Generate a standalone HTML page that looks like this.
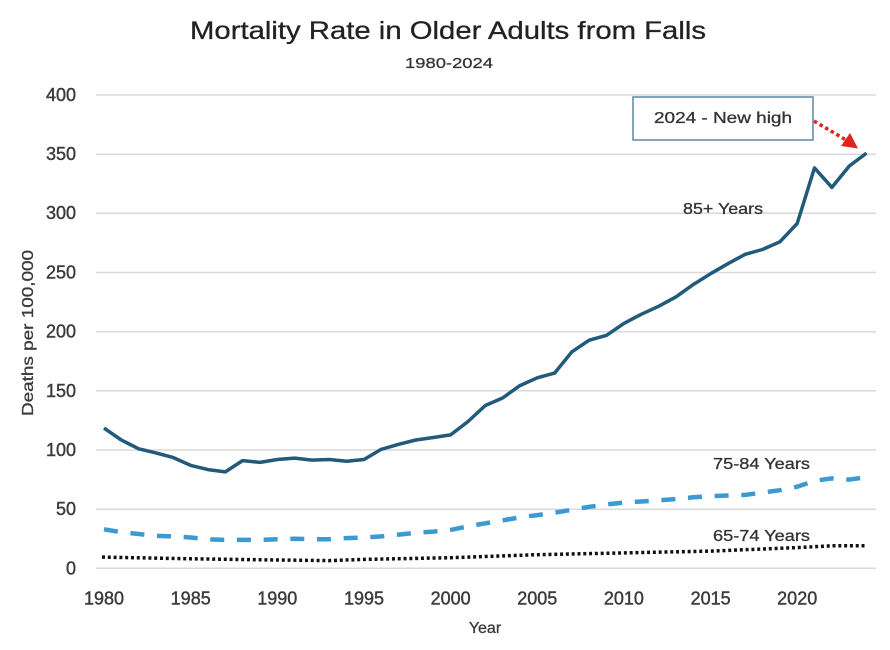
<!DOCTYPE html>
<html><head><meta charset="utf-8"><style>
html,body{margin:0;padding:0;background:#fff;}
svg{display:block;}
text{font-family:"Liberation Sans",Arial,sans-serif;}
</style></head><body>
<svg width="890" height="650" viewBox="0 0 890 650" xmlns="http://www.w3.org/2000/svg">
<rect width="890" height="650" fill="#fff"/>
<text x="448" y="39" text-anchor="middle" font-size="25" fill="#222" stroke="#222" stroke-width="0.3" textLength="516" lengthAdjust="spacingAndGlyphs">Mortality Rate in Older Adults from Falls</text>
<text x="449" y="68" text-anchor="middle" font-size="15" fill="#333" stroke="#333" stroke-width="0.25" textLength="88" lengthAdjust="spacingAndGlyphs">1980-2024</text>
<g stroke="#d9d9d9" stroke-width="1.5">
<line x1="96" y1="95" x2="876" y2="95"/>
<line x1="96" y1="154.2" x2="876" y2="154.2"/>
<line x1="96" y1="213.3" x2="876" y2="213.3"/>
<line x1="96" y1="272.5" x2="876" y2="272.5"/>
<line x1="96" y1="331.7" x2="876" y2="331.7"/>
<line x1="96" y1="390.8" x2="876" y2="390.8"/>
<line x1="96" y1="450" x2="876" y2="450"/>
<line x1="96" y1="509.2" x2="876" y2="509.2"/>
<line x1="96" y1="568.3" x2="876" y2="568.3"/>
</g>
<g font-size="18" fill="#3a3a3a" stroke="#3a3a3a" stroke-width="0.4" text-anchor="end">
<text x="76" y="101">400</text>
<text x="76" y="160">350</text>
<text x="76" y="219">300</text>
<text x="76" y="278.5">250</text>
<text x="76" y="337.5">200</text>
<text x="76" y="397">150</text>
<text x="76" y="456">100</text>
<text x="76" y="515">50</text>
<text x="76" y="574.5">0</text>
</g>
<g font-size="18" fill="#3a3a3a" stroke="#3a3a3a" stroke-width="0.4" text-anchor="middle">
<text x="104" y="604.5">1980</text>
<text x="190.7" y="604.5">1985</text>
<text x="277.3" y="604.5">1990</text>
<text x="364" y="604.5">1995</text>
<text x="450.6" y="604.5">2000</text>
<text x="537.3" y="604.5">2005</text>
<text x="623.9" y="604.5">2010</text>
<text x="710.6" y="604.5">2015</text>
<text x="797.2" y="604.5">2020</text>
</g>
<text x="485" y="633" text-anchor="middle" font-size="16" fill="#3a3a3a" stroke="#3a3a3a" stroke-width="0.3">Year</text>
<text transform="translate(33,333) rotate(-90)" text-anchor="middle" font-size="16" fill="#3a3a3a" stroke="#3a3a3a" stroke-width="0.3" textLength="166" lengthAdjust="spacingAndGlyphs">Deaths per 100,000</text>

<!-- 65-74 dotted -->
<polyline fill="none" stroke="#111" stroke-width="3.5" stroke-dasharray="3 2.8" points="102,557.1 190.7,558.8 277.3,560 329.3,560.6 364,559.4 450.6,557.7 537.3,554.7 623.9,552.9 710.6,551.1 797.2,547.6 831.9,545.8 866.5,545.8"/>
<!-- 75-84 dashed -->
<polyline fill="none" stroke="#3c9ad1" stroke-width="4.5" stroke-dasharray="14 12.7" points="104,529.3 121.3,532.2 138.7,534 156,535.8 173.3,536.4 190.7,537.5 208,539.3 225.3,539.9 242.6,539.9 260,539.9 277.3,539.3 294.6,538.7 312,539.3 329.3,539.3 346.6,538.1 364,537.5 381.3,536.4 398.6,534.6 415.9,532.8 433.3,531.6 450.6,529.9 467.9,526.3 485.3,523.3 502.6,520.4 519.9,517.4 537.3,515.1 554.6,512.7 571.9,509.7 589.2,506.8 606.6,504.4 623.9,502.6 641.2,501.5 658.6,500.3 675.9,499.1 693.2,497.3 710.6,496.1 727.9,495.5 745.2,494.9 762.5,492.6 779.9,490.2 797.2,486.7 814.5,480.8 831.9,478.4 849.2,479.6 866.5,477.2"/>
<!-- 85+ solid -->
<polyline fill="none" stroke="#215a7a" stroke-width="3.5" stroke-linejoin="round" points="104,428.1 121.3,440 138.7,448.8 156,452.9 173.3,457.6 190.7,465.4 208,469.6 225.3,471.9 242.6,460.6 260,462.4 277.3,459.5 294.6,458.1 312,460.1 329.3,459.5 346.6,461.2 364,459.5 381.3,449.3 398.6,444.3 415.9,440 433.3,437.5 450.6,434.9 467.9,421.6 485.3,405.5 502.6,398 519.9,385.6 537.3,377.8 554.6,373.1 571.9,351.8 589.2,340.2 606.6,335.3 623.9,323.4 641.2,314.3 658.6,306.3 675.9,296.9 693.2,284.6 710.6,273.7 727.9,263.7 745.2,254.3 762.5,249.5 779.9,241.8 797.2,223.5 814.5,167.9 831.9,187.4 849.2,166.1 866.5,153.1"/>

<g font-size="16" fill="#333" stroke="#333" stroke-width="0.3">
<text x="683" y="214" textLength="80" lengthAdjust="spacingAndGlyphs">85+ Years</text>
<text x="713" y="469" textLength="97" lengthAdjust="spacingAndGlyphs">75-84 Years</text>
<text x="713" y="541" textLength="97" lengthAdjust="spacingAndGlyphs">65-74 Years</text>
</g>

<!-- annotation -->
<rect x="633" y="97" width="180" height="43" fill="#fff" stroke="#5b87a3" stroke-width="1.5"/>
<text x="723" y="123" text-anchor="middle" font-size="16" fill="#333" stroke="#333" stroke-width="0.3" textLength="138" lengthAdjust="spacingAndGlyphs">2024 - New high</text>
<line x1="814" y1="121" x2="846" y2="140" stroke="#e0231d" stroke-width="3.5" stroke-dasharray="3.5 3"/>
<polygon points="858,148.5 841,146 850,133" fill="#e0231d"/>
</svg>
</body></html>
